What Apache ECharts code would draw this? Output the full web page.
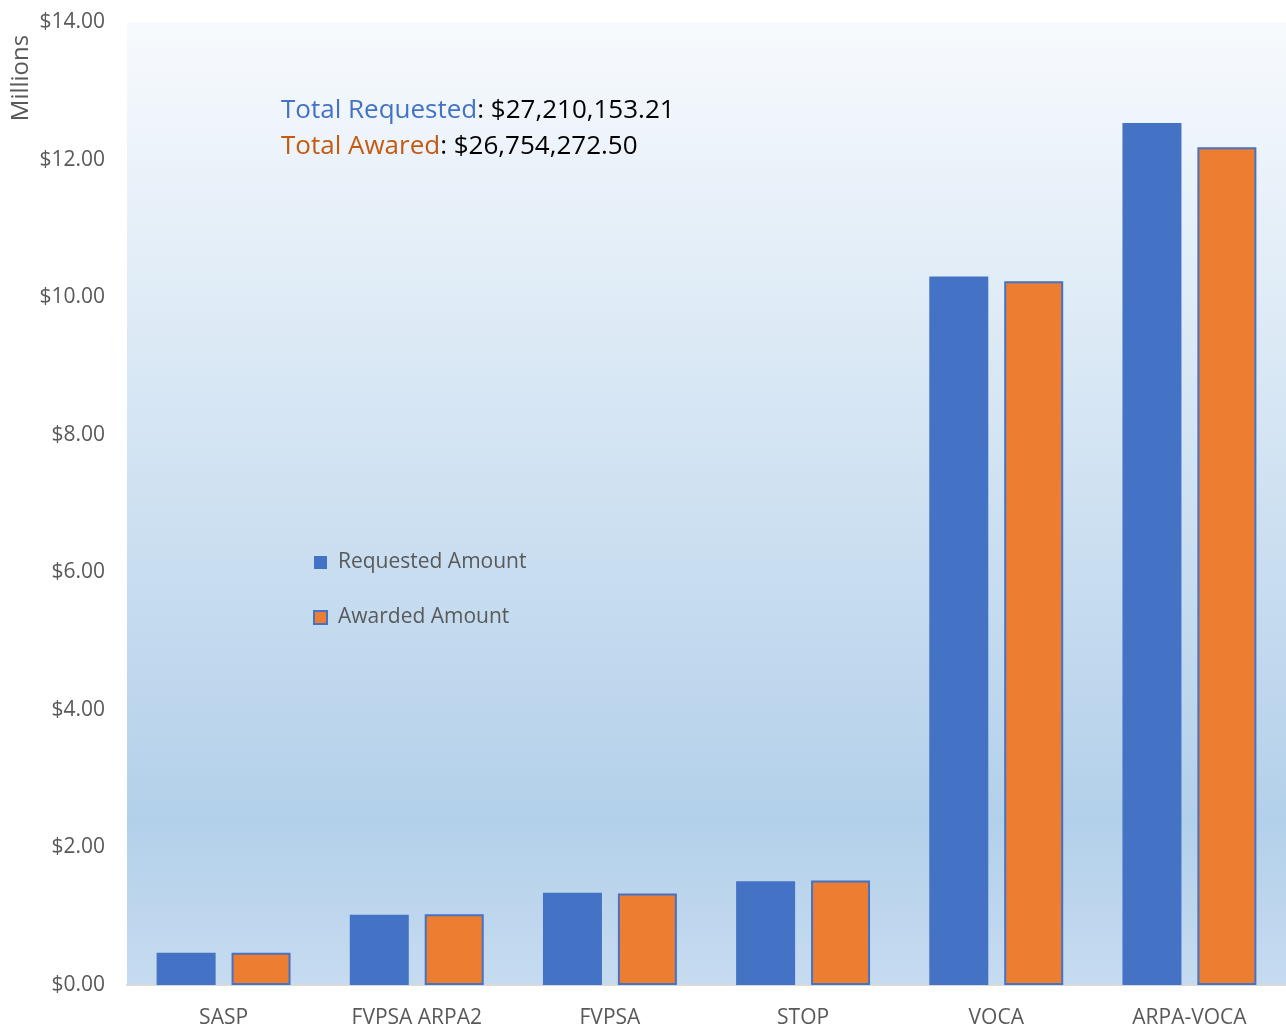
<!DOCTYPE html>
<html>
<head>
    <meta http-equiv="Content-Type" content="text/html; charset=utf-8" />
    <style type="text/css">
        body, html {width: 100%;height: 100%;margin:0;background:#fff;}
        #chart{width:1286px;height:1030px;}
    </style>
    <script src="https://cdn.jsdelivr.net/npm/echarts@6/dist/echarts.min.js"></script>
    <title>Requested vs Awarded</title>
</head>
<body>
<div id="chart"></div>
<script type="text/javascript">
    // values in millions
    var categories = ['SASP', 'FVPSA ARPA2', 'FVPSA', 'STOP', 'VOCA', 'ARPA-VOCA'];
    var requested = [0.47, 1.02, 1.34, 1.51, 10.30, 12.53];
    var awarded = [0.47, 1.03, 1.33, 1.52, 10.23, 12.18];
    var totalRequested = '$27,210,153.21';
    var totalAwarded = '$26,754,272.50';

    var font = '"Open Sans", "Noto Sans", sans-serif';
    var myChart = echarts.init(document.getElementById('chart'));

    var option = {
        backgroundColor: '#fff',
        textStyle: {fontFamily: font},
        grid: {
            left: 127, right: 0, top: 22, bottom: 45,
            show: true,
            borderWidth: 0,
            backgroundColor: new echarts.graphic.LinearGradient(0, 0, 0, 1, [
                {offset: 0, color: '#f7fafd'},
                {offset: 0.83, color: '#b3d0ea'},
                {offset: 1, color: '#c6dbf0'}
            ])
        },
        legend: {
            orient: 'vertical',
            left: 308,
            top: 547,
            itemWidth: 13,
            itemHeight: 13,
            itemGap: 34,
            icon: 'rect',
            textStyle: {fontFamily: font, fontSize: 21, color: '#595959', padding: [0, 0, 0, 6]},
            data: ['Requested Amount', 'Awarded Amount']
        },
        xAxis: {
            type: 'category',
            data: categories,
            axisLine: {lineStyle: {color: '#d9d9d9', width: 2}},
            axisTick: {show: false},
            axisLabel: {fontFamily: font, fontSize: 21, color: '#595959', margin: 23}
        },
        yAxis: {
            type: 'value',
            min: 0, max: 14, interval: 2,
            axisLine: {show: false},
            axisTick: {show: false},
            splitLine: {show: false},
            axisLabel: {
                fontFamily: font, fontSize: 21, color: '#595959', margin: 22,
                formatter: function (v) { return '$' + v.toFixed(2); }
            }
        },
        graphic: [{
            type: 'text',
            left: 281, top: 93,
            style: {
                rich: {
                    b: {fill: '#4472c4', fontFamily: font, fontSize: 26},
                    o: {fill: '#c55a11', fontFamily: font, fontSize: 26},
                    k: {fill: '#000', fontFamily: font, fontSize: 26}
                },
                text: '{b|Total Requested}{k|: ' + totalRequested + '}\n{o|Total Awared}{k|: ' + totalAwarded + '}',
                lineHeight: 36
            }
        }, {
            type: 'text',
            x: 21, y: 78,
            rotation: Math.PI / 2,
            style: {
                text: 'Millions',
                fill: '#595959',
                fontFamily: font,
                fontSize: 24,
                align: 'center',
                verticalAlign: 'middle'
            }
        }],
        series: [
            {
                name: 'Requested Amount',
                type: 'bar',
                barWidth: 59,
                barGap: '27%',
                itemStyle: {color: '#4472c4'},
                data: requested
            },
            {
                name: 'Awarded Amount',
                type: 'bar',
                barWidth: 59,
                itemStyle: {color: '#ed7d31', borderColor: '#4472c4', borderWidth: 2},
                data: awarded
            }
        ]
    };
    myChart.setOption(option, true);
</script>
</body>
</html>
